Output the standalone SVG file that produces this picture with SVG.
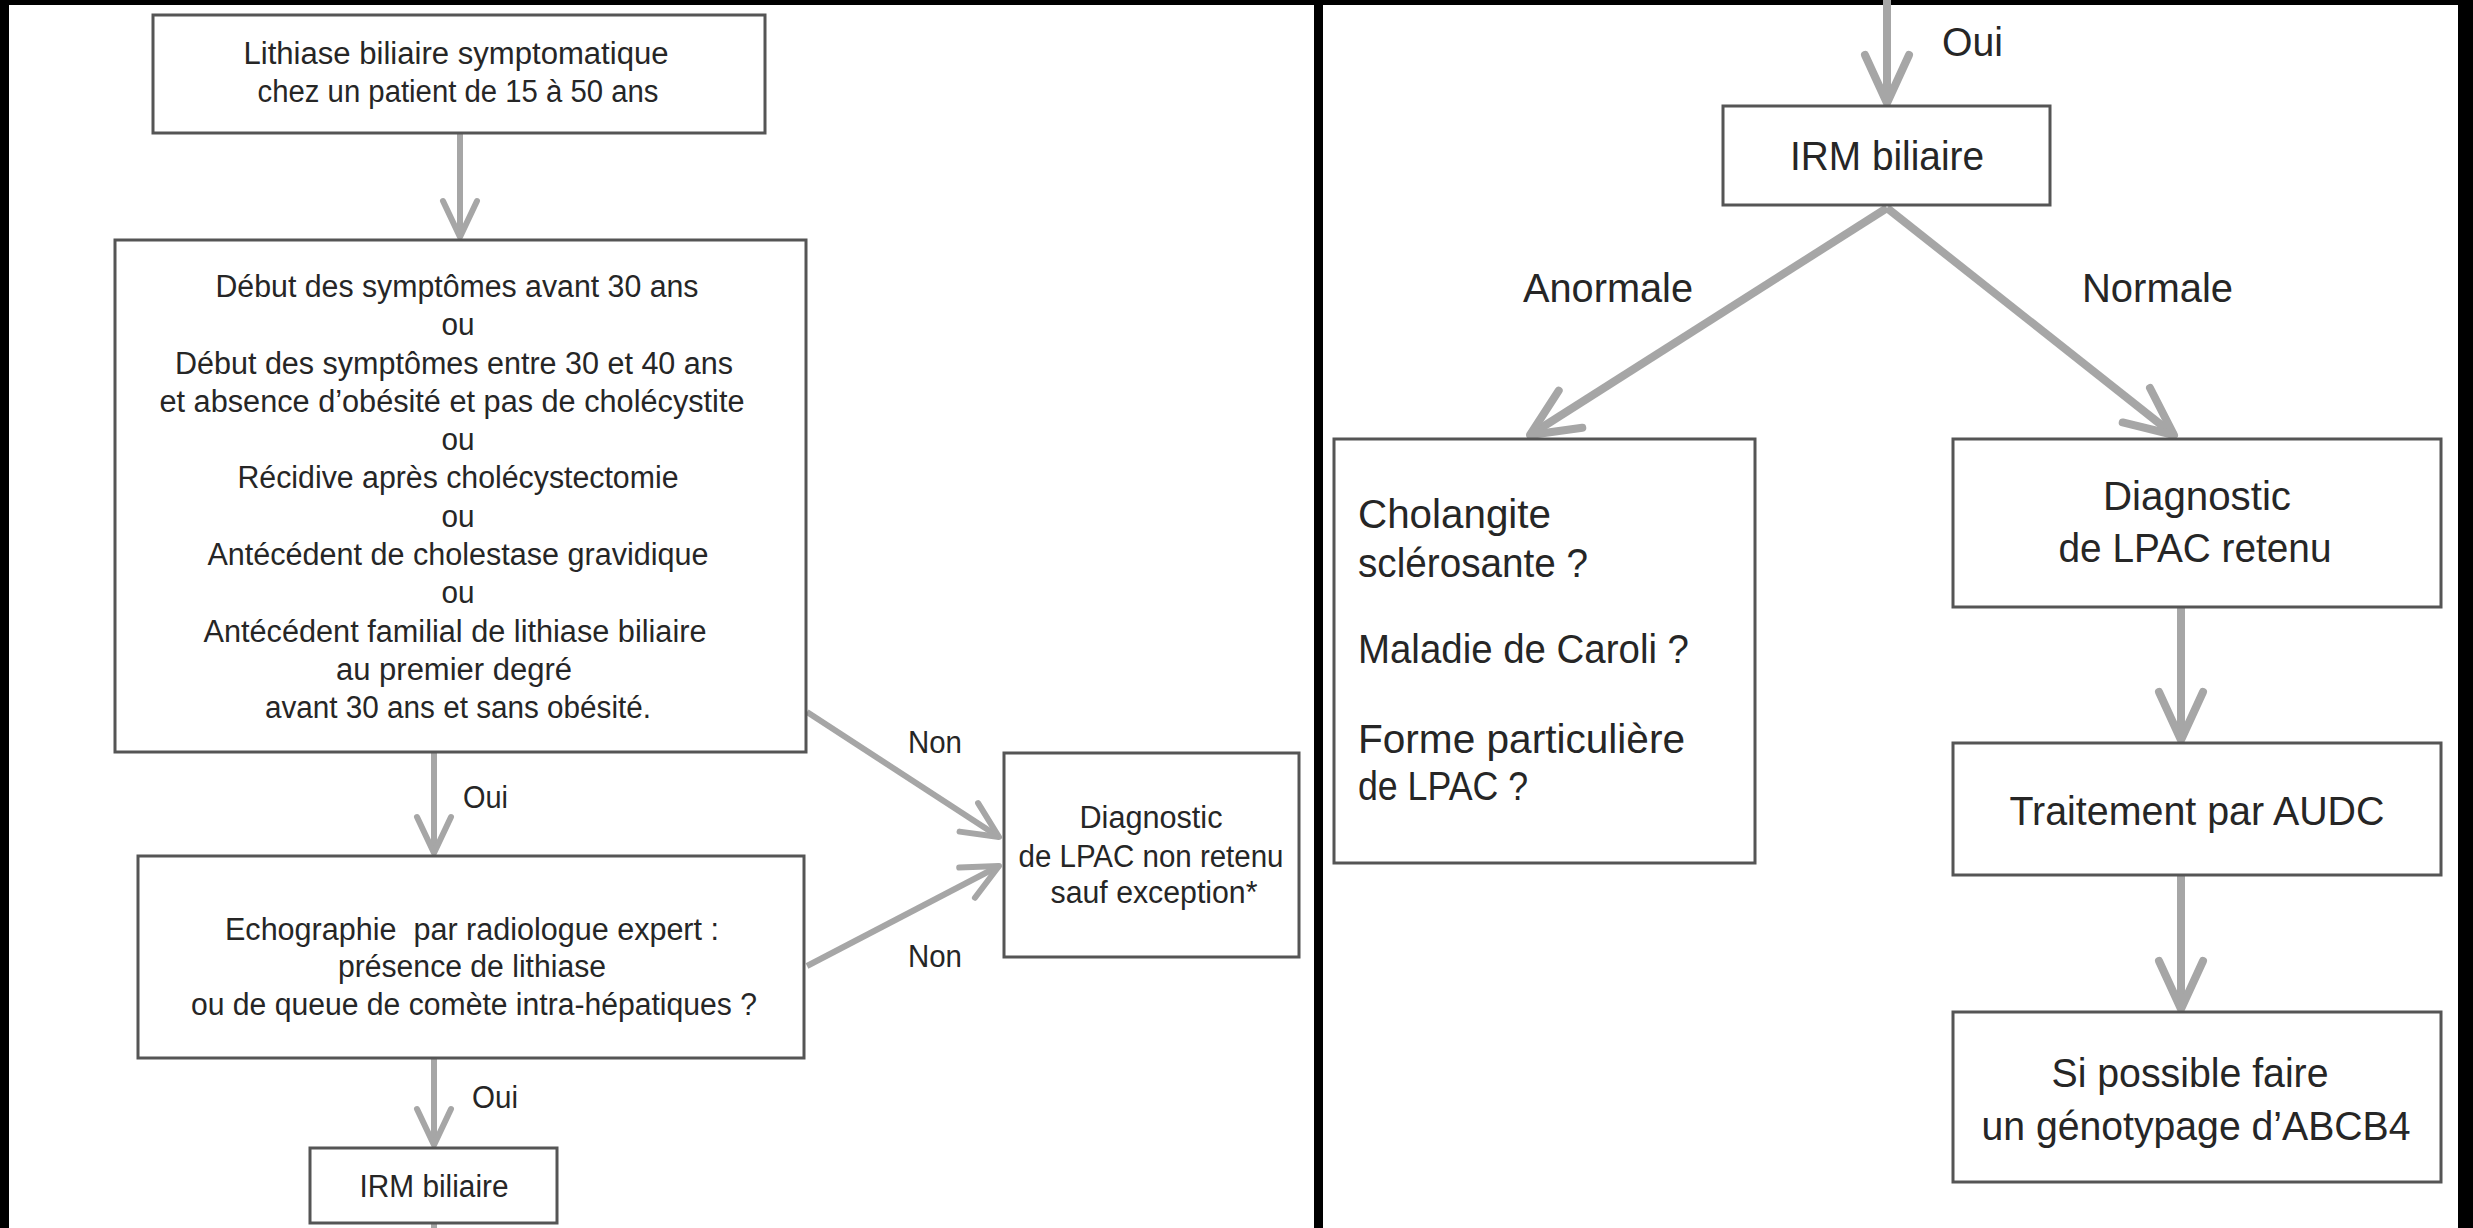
<svg xmlns="http://www.w3.org/2000/svg" width="2473" height="1228" viewBox="0 0 2473 1228">
<style>
.box{fill:#ffffff;stroke:#555555;stroke-width:3}
.t{font-family:"Liberation Sans",Arial,sans-serif;fill:#262626;font-size:31px}
.tr{font-family:"Liberation Sans",Arial,sans-serif;fill:#262626;font-size:40px}
.c{text-anchor:middle}
.conS{stroke:#a6a6a6;stroke-width:6;fill:none;marker-end:url(#ahS)}
.conL{stroke:#a6a6a6;stroke-width:8;fill:none;marker-end:url(#ahL)}
.frame{fill:#000000}
</style>
<defs>
<marker id="ahS" markerUnits="userSpaceOnUse" viewBox="-42 -22 46 44" refX="0" refY="0" markerWidth="46" markerHeight="44" orient="auto">
<path d="M-36,-17 L0,0 L-36,17" fill="none" stroke="#a6a6a6" stroke-width="6" stroke-linecap="round" stroke-linejoin="round"/>
</marker>
<marker id="ahL" markerUnits="userSpaceOnUse" viewBox="-54 -28 60 56" refX="0" refY="0" markerWidth="60" markerHeight="56" orient="auto">
<path d="M-48,-22 L0,0 L-48,22" fill="none" stroke="#a6a6a6" stroke-width="8" stroke-linecap="round" stroke-linejoin="round"/>
</marker>
</defs>
<rect x="0" y="0" width="2473" height="1228" fill="#ffffff"/>
<g id="frame">
<rect class="frame" x="0" y="0" width="2473" height="5"/>
<rect class="frame" x="0" y="0" width="9" height="1228"/>
<rect class="frame" x="1314" y="0" width="9" height="1228"/>
<rect class="frame" x="2458" y="0" width="15" height="1228"/>
</g>
<g id="connectors">
<line class="conS" x1="460" y1="134" x2="460" y2="237"/>
<line class="conS" x1="434" y1="753" x2="434" y2="853"/>
<text class="t" x="463" y="808" textLength="45" lengthAdjust="spacingAndGlyphs">Oui</text>
<line class="conS" x1="434" y1="1059" x2="434" y2="1145"/>
<text class="t" x="472" y="1108" textLength="46" lengthAdjust="spacingAndGlyphs">Oui</text>
<line stroke="#a6a6a6" stroke-width="6" x1="434" y1="1224" x2="434" y2="1228"/>
<line class="conS" x1="807" y1="712" x2="999" y2="837"/>
<text class="t" x="908" y="753" textLength="54" lengthAdjust="spacingAndGlyphs">Non</text>
<line class="conS" x1="807" y1="966" x2="999" y2="866"/>
<text class="t" x="908" y="967" textLength="54" lengthAdjust="spacingAndGlyphs">Non</text>
<line class="conL" x1="1887" y1="0" x2="1887" y2="103"/>
<text class="tr" x="1942" y="56" textLength="61" lengthAdjust="spacingAndGlyphs">Oui</text>
<line class="conL" x1="1887" y1="208" x2="1530" y2="435"/>
<text class="tr" x="1523" y="302" textLength="170" lengthAdjust="spacingAndGlyphs">Anormale</text>
<line class="conL" x1="1887" y1="208" x2="2174" y2="435"/>
<text class="tr" x="2082" y="302" textLength="151" lengthAdjust="spacingAndGlyphs">Normale</text>
<line class="conL" x1="2181" y1="608" x2="2181" y2="740"/>
<line class="conL" x1="2181" y1="876" x2="2181" y2="1009"/>
</g>
<g id="n_start">
<rect class="box" x="153" y="15" width="612" height="118"/>
<text class="t c" x="456" y="64" textLength="425" lengthAdjust="spacingAndGlyphs">Lithiase biliaire symptomatique</text>
<text class="t c" x="458" y="102" textLength="401" lengthAdjust="spacingAndGlyphs">chez un patient de 15 à 50 ans</text>
</g>
<g id="n_criteria">
<rect class="box" x="115" y="240" width="691" height="512"/>
<text class="t c" x="457" y="297" textLength="483" lengthAdjust="spacingAndGlyphs">Début des symptômes avant 30 ans</text>
<text class="t c" x="458" y="335" textLength="33" lengthAdjust="spacingAndGlyphs">ou</text>
<text class="t c" x="454" y="374" textLength="558" lengthAdjust="spacingAndGlyphs">Début des symptômes entre 30 et 40 ans</text>
<text class="t c" x="452" y="412" textLength="585" lengthAdjust="spacingAndGlyphs">et absence d’obésité et pas de cholécystite</text>
<text class="t c" x="458" y="450" textLength="33" lengthAdjust="spacingAndGlyphs">ou</text>
<text class="t c" x="458" y="488" textLength="441" lengthAdjust="spacingAndGlyphs">Récidive après cholécystectomie</text>
<text class="t c" x="458" y="527" textLength="33" lengthAdjust="spacingAndGlyphs">ou</text>
<text class="t c" x="458" y="565" textLength="501" lengthAdjust="spacingAndGlyphs">Antécédent de cholestase gravidique</text>
<text class="t c" x="458" y="603" textLength="33" lengthAdjust="spacingAndGlyphs">ou</text>
<text class="t c" x="455" y="642" textLength="503" lengthAdjust="spacingAndGlyphs">Antécédent familial de lithiase biliaire</text>
<text class="t c" x="454" y="680" textLength="236" lengthAdjust="spacingAndGlyphs">au premier degré</text>
<text class="t c" x="458" y="718" textLength="386" lengthAdjust="spacingAndGlyphs">avant 30 ans et sans obésité.</text>
</g>
<g id="n_echo">
<rect class="box" x="138" y="856" width="666" height="202"/>
<text class="t c" x="472" y="940" textLength="494" lengthAdjust="spacingAndGlyphs" xml:space="preserve">Echographie  par radiologue expert :</text>
<text class="t c" x="472" y="977" textLength="268" lengthAdjust="spacingAndGlyphs">présence de lithiase</text>
<text class="t c" x="474" y="1015" textLength="566" lengthAdjust="spacingAndGlyphs">ou de queue de comète intra-hépatiques ?</text>
</g>
<g id="n_irm_left">
<rect class="box" x="310" y="1148" width="247" height="75"/>
<text class="t c" x="434" y="1197" textLength="149" lengthAdjust="spacingAndGlyphs">IRM biliaire</text>
</g>
<g id="n_non">
<rect class="box" x="1004" y="753" width="295" height="204"/>
<text class="t c" x="1151" y="828" textLength="143" lengthAdjust="spacingAndGlyphs">Diagnostic</text>
<text class="t c" x="1151" y="867" textLength="265" lengthAdjust="spacingAndGlyphs">de LPAC non retenu</text>
<text class="t c" x="1154" y="903" textLength="207" lengthAdjust="spacingAndGlyphs">sauf exception*</text>
</g>
<g id="n_irm_right">
<rect class="box" x="1723" y="106" width="327" height="99"/>
<text class="tr c" x="1887" y="170" textLength="194" lengthAdjust="spacingAndGlyphs">IRM biliaire</text>
</g>
<g id="n_abnormal">
<rect class="box" x="1334" y="439" width="421" height="424"/>
<text class="tr" x="1358" y="528" textLength="193" lengthAdjust="spacingAndGlyphs">Cholangite</text>
<text class="tr" x="1358" y="577" textLength="230" lengthAdjust="spacingAndGlyphs">sclérosante ?</text>
<text class="tr" x="1358" y="663" textLength="331" lengthAdjust="spacingAndGlyphs">Maladie de Caroli ?</text>
<text class="tr" x="1358" y="753" textLength="327" lengthAdjust="spacingAndGlyphs">Forme particulière</text>
<text class="tr" x="1358" y="800" textLength="170" lengthAdjust="spacingAndGlyphs">de LPAC ?</text>
</g>
<g id="n_retenu">
<rect class="box" x="1953" y="439" width="488" height="168"/>
<text class="tr c" x="2197" y="510" textLength="188" lengthAdjust="spacingAndGlyphs">Diagnostic</text>
<text class="tr c" x="2195" y="562" textLength="273" lengthAdjust="spacingAndGlyphs">de LPAC retenu</text>
</g>
<g id="n_audc">
<rect class="box" x="1953" y="743" width="488" height="132"/>
<text class="tr c" x="2197" y="825" textLength="375" lengthAdjust="spacingAndGlyphs">Traitement par AUDC</text>
</g>
<g id="n_abcb4">
<rect class="box" x="1953" y="1012" width="488" height="170"/>
<text class="tr c" x="2190" y="1087" textLength="277" lengthAdjust="spacingAndGlyphs">Si possible faire</text>
<text class="tr c" x="2196" y="1140" textLength="429" lengthAdjust="spacingAndGlyphs">un génotypage d’ABCB4</text>
</g>
</svg>
